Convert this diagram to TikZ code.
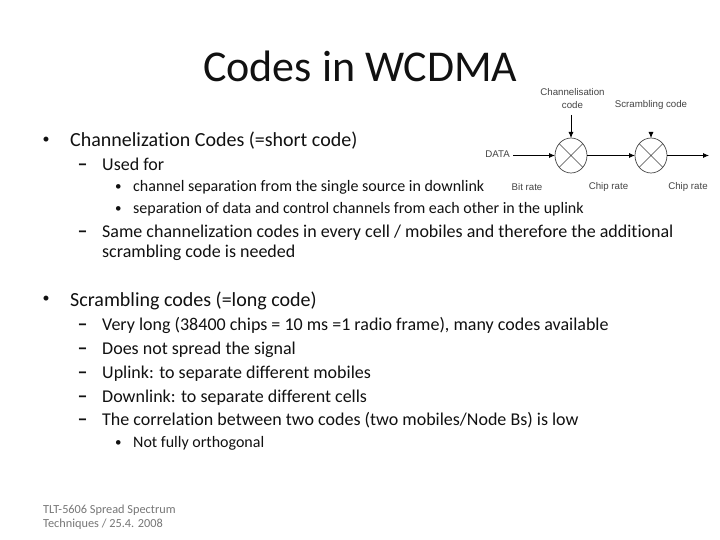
\documentclass[tikz,border=0pt]{standalone}
\usepackage{fontspec}
\setmainfont[Ligatures=NoCommon]{Carlito}
\newfontfamily\diagfont{Liberation Sans}
\usetikzlibrary{arrows.meta,shapes.geometric}
\definecolor{ink}{HTML}{111111}
\definecolor{foot}{HTML}{777777}
\definecolor{diag}{HTML}{444444}
\tikzset{x=1pt,y=-1pt,
 txt/.style={anchor=base west,inner sep=0pt,text=ink},
 title/.style={txt,font=\fontsize{44}{44}\selectfont},
 lone/.style={txt,font=\fontsize{20}{20}\selectfont},
 ltwo/.style={txt,font=\fontsize{18}{20}\selectfont},
 lthree/.style={txt,font=\fontsize{16}{16}\selectfont},
 bulone/.style={txt,font=\fontsize{14}{14}\selectfont},
 bulthree/.style={txt,font=\fontsize{13}{13}\selectfont},
 dashmark/.style={txt,font=\fontsize{20}{20}\selectfont\bfseries},
 footer/.style={txt,text=foot,font=\fontsize{12.3}{12.3}\selectfont},
 dlabel/.style={inner sep=0pt,text=diag,font=\diagfont\fontsize{9.7}{13}\selectfont,align=center},
 mixer/.style={draw=diag,line width=0.7pt,ellipse,minimum width=32pt,minimum height=35pt,inner sep=0pt,outer sep=0pt},
 xline/.style={draw=diag,line width=0.6pt},
 conn/.style={draw=black,line width=0.8pt,-{Latex[length=6pt,width=5pt]}}}
\begin{document}
\begin{tikzpicture}
\useasboundingbox (0,0) rectangle (720,540);
\fill[white] (0,0) rectangle (720,540);
\node[title] (t) at (203,82) {Codes in WCDMA};
\node[bulone] (b1d) at (42.5,143.5) {•};
\node[lone] (b1) at (70,147) {Channelization Codes (=short code)};
\node[dashmark] (d1d) at (77.5,171) {–};
\node[ltwo] (d1) at (102,171) {Used for};
\node[bulthree] (e1d) at (115,191) {•};
\node[lthree] (e1) at (133,192) {channel separation from the single source in downlink};
\node[bulthree] (e2d) at (115,213) {•};
\node[lthree] (e2) at (133,214) {separation of data and control channels from each other in the uplink};
\node[dashmark] (d2d) at (77.5,237) {–};
\node[ltwo] (d2) at (102,237) {Same channelization codes in every cell / mobiles and therefore the additional};
\node[ltwo] (d2b) at (102,257) {scrambling code is needed};
\node[bulone] (b2d) at (42.5,302.5) {•};
\node[lone] (b2) at (70,306) {Scrambling codes (=long code)};
\node[dashmark] (s1d) at (77.5,330) {–};
\node[ltwo] (s1) at (102,330) {Very long (38400 chips = 10 ms =1 radio frame), many codes available};
\node[dashmark] (s2d) at (77.5,354) {–};
\node[ltwo] (s2) at (102,354) {Does not spread the signal};
\node[dashmark] (s3d) at (77.5,378) {–};
\node[ltwo] (s3) at (102,378) {Uplink: to separate different mobiles};
\node[dashmark] (s4d) at (77.5,402) {–};
\node[ltwo] (s4) at (102,402) {Downlink: to separate different cells};
\node[dashmark] (s5d) at (77.5,425) {–};
\node[ltwo] (s5) at (102,425) {The correlation between two codes (two mobiles/Node Bs) is low};
\node[bulthree] (n1d) at (115,446) {•};
\node[lthree] (n1) at (133,447) {Not fully orthogonal};
\node[footer] (f1) at (43,513) {TLT-5606 Spread Spectrum};
\node[footer] (f2) at (43,527) {Techniques / 25.4. 2008};
% diagram
\node[mixer] (m1) at (571,155.5) {};
\node[mixer] (m2) at (651,155.5) {};
\draw[xline] (m1.45) -- (m1.225) (m1.135) -- (m1.315);
\draw[xline] (m2.45) -- (m2.225) (m2.135) -- (m2.315);
\node[dlabel] (chan) at (572.5,98.5) {Channelisation\\code};
\node[dlabel] (scr) at (651,105) {Scrambling code};
\node[dlabel] (data) at (497.5,154.5) {DATA};
\node[dlabel] (r1) at (527,187) {Bit rate};
\node[dlabel] (r2) at (608.5,187) {Chip rate};
\node[dlabel] (r3) at (688,187) {Chip rate};
\coordinate (chanend) at (571,115);
\coordinate (scrend) at (651,132);
\coordinate (out) at (709,155.5);
\coordinate (datastart) at (513,155.5);
\draw[conn] (datastart) -- (m1.west);
\draw[conn] (chanend) -- (m1.north);
\draw[conn] (m1.east) -- (m2.west);
\draw[conn] (scrend) -- (m2.north);
\draw[conn] (m2.east) -- (out);
\end{tikzpicture}
\end{document}
